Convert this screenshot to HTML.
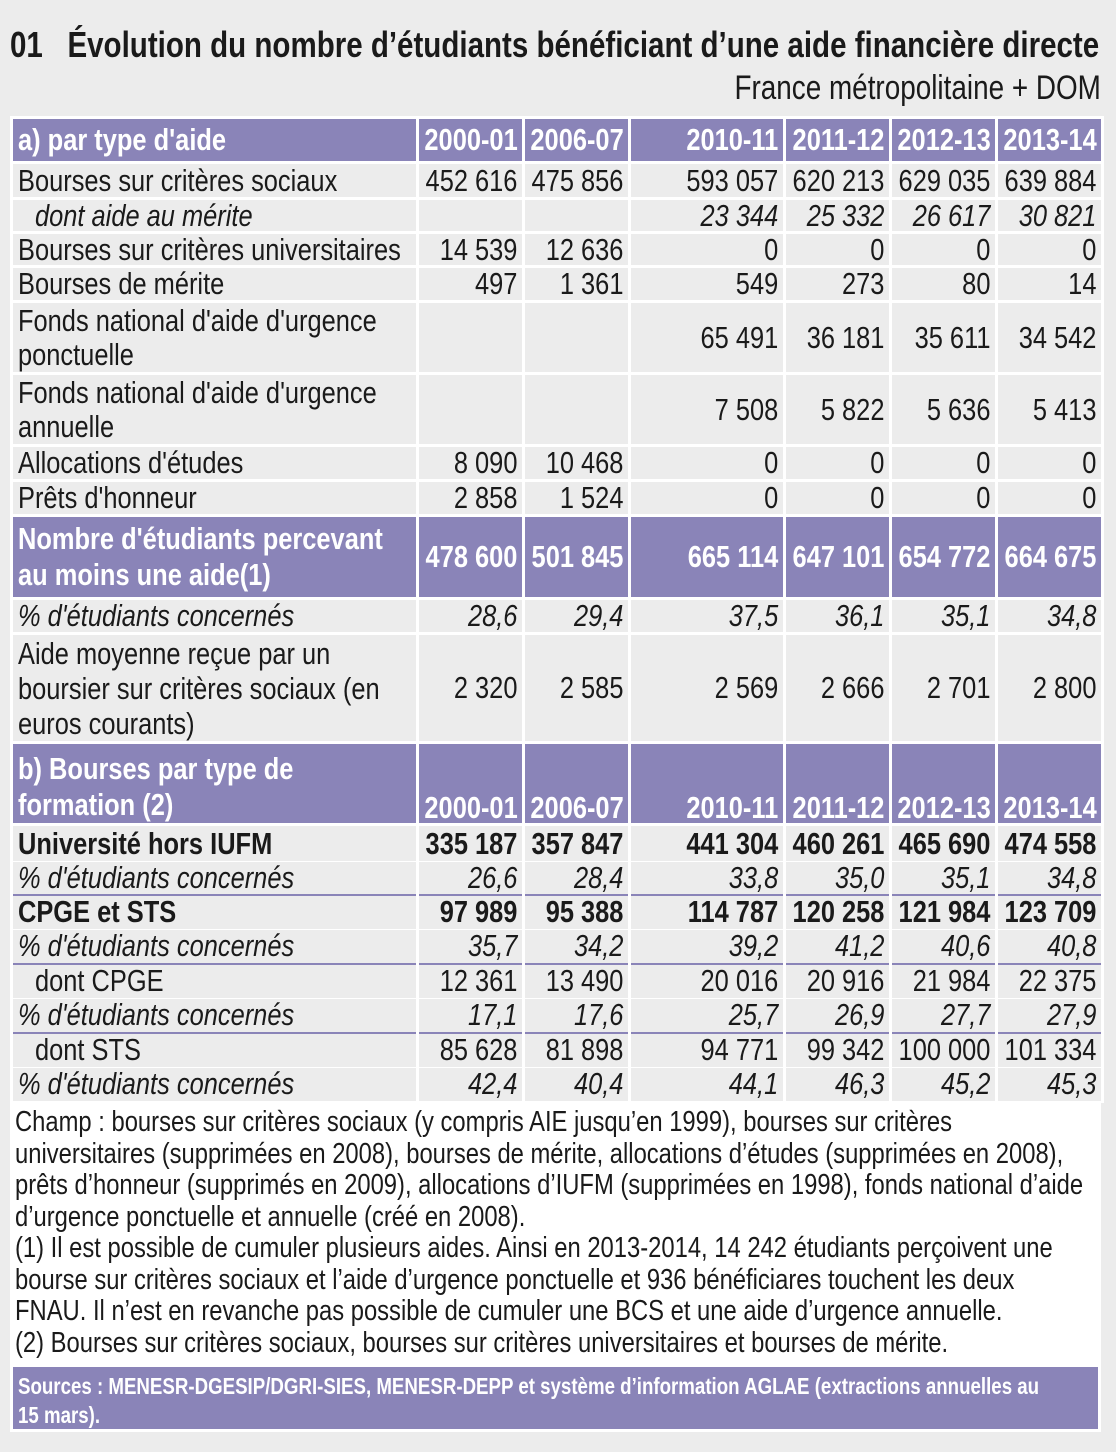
<!DOCTYPE html>
<html><head><meta charset="utf-8">
<style>
html,body{margin:0;padding:0;background:#ececec;}
body{width:1116px;height:1452px;position:relative;overflow:hidden;font-family:"Liberation Sans",sans-serif;color:#1a1a1a;}
x{display:block;width:122%;transform:scaleX(.82);}
.t1{position:absolute;left:10px;top:24px;font-size:36px;font-weight:bold;white-space:nowrap;width:1400px;}
.t1 x{transform-origin:left;width:auto;}
.t2{position:absolute;right:15px;top:69px;font-size:34px;white-space:nowrap;}
.t2 x{transform-origin:right;width:auto;}
table{position:absolute;left:10px;top:116px;width:1091px;border-collapse:collapse;table-layout:fixed;font-size:31px;}
td{border:3px solid #fff;padding:0 5px;line-height:30px;text-align:right;white-space:nowrap;}
td x{margin-left:-22%;transform-origin:right;}
td:first-child{text-align:left;white-space:normal;}
td:first-child x{margin-left:0;transform-origin:left;}
.h td{background:#8a84b8;color:#fff;font-weight:bold;}
.i td{font-style:italic;}
.b td{font-weight:bold;}
.ind td:first-child{padding-left:22px;}
.lo td{border-top-width:1px;border-bottom-width:1px;}
.pl td{border-bottom:2px solid #8a84b8;}
.notes{position:absolute;left:10px;top:1101px;height:263px;background:#fff;padding:6px 0 0 5px;font-size:29px;line-height:31.5px;box-sizing:border-box;width:1091px;}
.notes x{transform-origin:left;white-space:nowrap;}
.src{position:absolute;left:10px;top:1364px;width:1091px;height:68px;background:#8a84b8;border:3px solid #fff;box-sizing:border-box;color:#fff;font-weight:bold;font-size:22.8px;line-height:29px;padding:5px 5px 0 5px;}
.src x{transform-origin:left;white-space:nowrap;}
</style></head><body>
<div class="t1"><x>01&nbsp;&nbsp; Évolution du nombre d’étudiants bénéficiant d’une aide financière directe</x></div>
<div class="t2"><x>France métropolitaine + DOM</x></div>
<table>
<colgroup><col style="width:406px"><col style="width:106px"><col style="width:106px"><col style="width:155px"><col style="width:106px"><col style="width:106px"><col style="width:106px"></colgroup>
<tr class="h" style="height:45px"><td><x>a) par type d'aide</x></td><td><x>2000-01</x></td><td><x>2006-07</x></td><td><x>2010-11</x></td><td><x>2011-12</x></td><td><x>2012-13</x></td><td><x>2013-14</x></td></tr>
<tr style="height:36px"><td><x>Bourses sur critères sociaux</x></td><td><x>452 616</x></td><td><x>475 856</x></td><td><x>593 057</x></td><td><x>620 213</x></td><td><x>629 035</x></td><td><x>639 884</x></td></tr>
<tr class="i ind" style="height:34px"><td><x>dont aide au mérite</x></td><td></td><td></td><td><x>23 344</x></td><td><x>25 332</x></td><td><x>26 617</x></td><td><x>30 821</x></td></tr>
<tr style="height:34px"><td><x>Bourses sur critères universitaires</x></td><td><x>14 539</x></td><td><x>12 636</x></td><td><x>0</x></td><td><x>0</x></td><td><x>0</x></td><td><x>0</x></td></tr>
<tr style="height:35px"><td><x>Bourses de mérite</x></td><td><x>497</x></td><td><x>1 361</x></td><td><x>549</x></td><td><x>273</x></td><td><x>80</x></td><td><x>14</x></td></tr>
<tr style="height:72px"><td><x style="line-height:34px">Fonds national d'aide d'urgence<br>ponctuelle</x></td><td></td><td></td><td><x>65 491</x></td><td><x>36 181</x></td><td><x>35 611</x></td><td><x>34 542</x></td></tr>
<tr style="height:72px"><td><x style="line-height:34px">Fonds national d'aide d'urgence<br>annuelle</x></td><td></td><td></td><td><x>7 508</x></td><td><x>5 822</x></td><td><x>5 636</x></td><td><x>5 413</x></td></tr>
<tr style="height:35px"><td><x>Allocations d'études</x></td><td><x>8 090</x></td><td><x>10 468</x></td><td><x>0</x></td><td><x>0</x></td><td><x>0</x></td><td><x>0</x></td></tr>
<tr style="height:35px"><td><x>Prêts d'honneur</x></td><td><x>2 858</x></td><td><x>1 524</x></td><td><x>0</x></td><td><x>0</x></td><td><x>0</x></td><td><x>0</x></td></tr>
<tr class="h" style="height:83px"><td><x style="line-height:36px">Nombre d'étudiants percevant<br>au moins une aide(1)</x></td><td><x>478 600</x></td><td><x>501 845</x></td><td><x>665 114</x></td><td><x>647 101</x></td><td><x>654 772</x></td><td><x>664 675</x></td></tr>
<tr class="i" style="height:35px"><td><x>% d'étudiants concernés</x></td><td><x>28,6</x></td><td><x>29,4</x></td><td><x>37,5</x></td><td><x>36,1</x></td><td><x>35,1</x></td><td><x>34,8</x></td></tr>
<tr style="height:109px"><td><x style="line-height:35px">Aide moyenne reçue par un<br>boursier sur critères sociaux (en<br>euros courants)</x></td><td><x>2 320</x></td><td><x>2 585</x></td><td><x>2 569</x></td><td><x>2 666</x></td><td><x>2 701</x></td><td><x>2 800</x></td></tr>
<tr class="h" style="height:82px"><td style="vertical-align:bottom"><x style="line-height:36px">b) Bourses par type de<br>formation (2)</x></td><td style="vertical-align:bottom"><x>2000-01</x></td><td style="vertical-align:bottom"><x>2006-07</x></td><td style="vertical-align:bottom"><x>2010-11</x></td><td style="vertical-align:bottom"><x>2011-12</x></td><td style="vertical-align:bottom"><x>2012-13</x></td><td style="vertical-align:bottom"><x>2013-14</x></td></tr>
<tr class="b lo" style="height:37px"><td><x>Université hors IUFM</x></td><td><x>335 187</x></td><td><x>357 847</x></td><td><x>441 304</x></td><td><x>460 261</x></td><td><x>465 690</x></td><td><x>474 558</x></td></tr>
<tr class="i lo pl" style="height:33px"><td><x>% d'étudiants concernés</x></td><td><x>26,6</x></td><td><x>28,4</x></td><td><x>33,8</x></td><td><x>35,0</x></td><td><x>35,1</x></td><td><x>34,8</x></td></tr>
<tr class="b lo" style="height:35px"><td><x>CPGE et STS</x></td><td><x>97 989</x></td><td><x>95 388</x></td><td><x>114 787</x></td><td><x>120 258</x></td><td><x>121 984</x></td><td><x>123 709</x></td></tr>
<tr class="i lo pl" style="height:34px"><td><x>% d'étudiants concernés</x></td><td><x>35,7</x></td><td><x>34,2</x></td><td><x>39,2</x></td><td><x>41,2</x></td><td><x>40,6</x></td><td><x>40,8</x></td></tr>
<tr class="lo ind" style="height:35px"><td><x>dont CPGE</x></td><td><x>12 361</x></td><td><x>13 490</x></td><td><x>20 016</x></td><td><x>20 916</x></td><td><x>21 984</x></td><td><x>22 375</x></td></tr>
<tr class="i lo pl" style="height:34px"><td><x>% d'étudiants concernés</x></td><td><x>17,1</x></td><td><x>17,6</x></td><td><x>25,7</x></td><td><x>26,9</x></td><td><x>27,7</x></td><td><x>27,9</x></td></tr>
<tr class="lo ind" style="height:35px"><td><x>dont STS</x></td><td><x>85 628</x></td><td><x>81 898</x></td><td><x>94 771</x></td><td><x>99 342</x></td><td><x>100 000</x></td><td><x>101 334</x></td></tr>
<tr class="i lo pl" style="height:34px"><td><x>% d'étudiants concernés</x></td><td><x>42,4</x></td><td><x>40,4</x></td><td><x>44,1</x></td><td><x>46,3</x></td><td><x>45,2</x></td><td><x>45,3</x></td></tr>
</table>
<div class="notes"><x>Champ : bourses sur critères sociaux (y compris AIE jusqu’en 1999), bourses sur critères<br>universitaires (supprimées en 2008), bourses de mérite, allocations d’études (supprimées en 2008),<br>prêts d’honneur (supprimés en 2009), allocations d’IUFM (supprimées en 1998), fonds national d’aide<br>d’urgence ponctuelle et annuelle (créé en 2008).<br>(1) Il est possible de cumuler plusieurs aides. Ainsi en 2013-2014, 14 242 étudiants perçoivent une<br>bourse sur critères sociaux et l’aide d’urgence ponctuelle et 936 bénéficiares touchent les deux<br>FNAU. Il n’est en revanche pas possible de cumuler une BCS et une aide d’urgence annuelle.<br>(2) Bourses sur critères sociaux, bourses sur critères universitaires et bourses de mérite.</x></div>
<div class="src"><x>Sources : MENESR-DGESIP/DGRI-SIES, MENESR-DEPP et système d’information AGLAE (extractions annuelles au<br>15 mars).</x></div>
</body></html>
